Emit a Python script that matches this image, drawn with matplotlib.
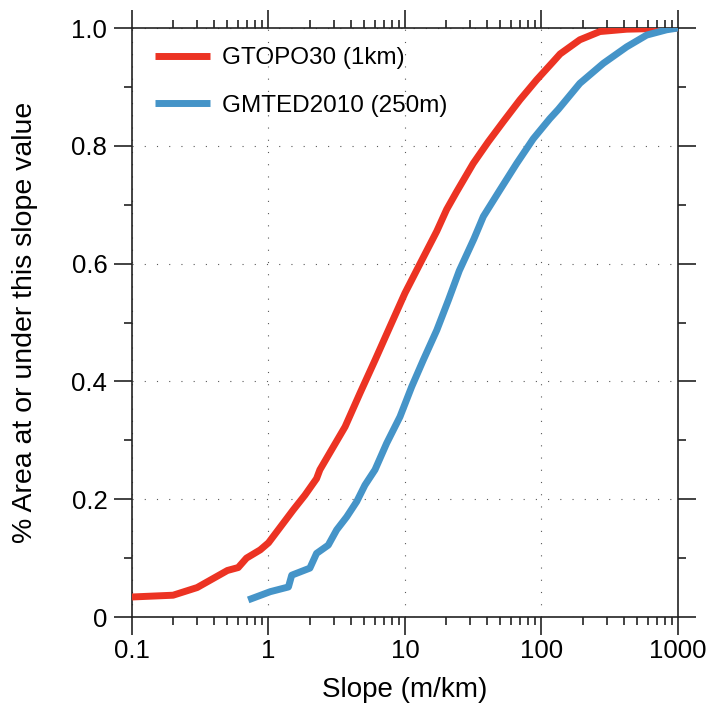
import numpy as np
import matplotlib
matplotlib.use("Agg")
import matplotlib.pyplot as plt
from matplotlib.ticker import FixedLocator, NullFormatter

plt.rcParams['font.family'] = ['Liberation Sans', 'DejaVu Sans']

# slope values (m/km) and cumulative area fraction
gtopo_x = [0.1, 0.2, 0.3, 0.5, 0.6, 0.69, 0.87, 1.0, 1.28, 1.52, 1.85, 2.25, 2.38,
           2.9, 3.64, 4.68, 6.03, 7.76, 10, 12.9, 17.1, 20.2, 23.9, 31.6, 40.8,
           52.5, 69.5, 92.2, 122, 137, 191, 268, 421, 1000]
gtopo_y = [0.034, 0.037, 0.050, 0.079, 0.084, 0.100, 0.114, 0.126, 0.159, 0.182,
           0.207, 0.235, 0.250, 0.284, 0.323, 0.380, 0.436, 0.493, 0.550, 0.600,
           0.655, 0.692, 0.722, 0.770, 0.807, 0.841, 0.878, 0.912, 0.943, 0.956,
           0.980, 0.994, 0.998, 1.0]

gmted_x = [0.71, 1.03, 1.40, 1.48, 2.01, 2.25, 2.74, 3.16, 3.74, 4.43, 5.09, 6.03,
           7.34, 9.19, 11.2, 13.6, 17.1, 20.8, 25.0, 32, 37.5, 49.6, 65.8, 87.1,
           115, 133, 191, 284, 421, 590, 826, 1000]
gmted_y = [0.029, 0.043, 0.051, 0.071, 0.083, 0.108, 0.122, 0.148, 0.170, 0.196,
           0.224, 0.250, 0.295, 0.340, 0.391, 0.436, 0.487, 0.538, 0.588, 0.642,
           0.680, 0.725, 0.770, 0.812, 0.846, 0.862, 0.906, 0.940, 0.968, 0.988,
           0.997, 1.0]

series_names = ['GTOPO30 (1km)', 'GMTED2010 (250m)']
x_ticks = [0.1, 1, 10, 100, 1000]
x_ticklabels = ['0.1', '1', '10', '100', '1000']
y_ticks = [0, 0.2, 0.4, 0.6, 0.8, 1.0]
y_ticklabels = ['0', '0.2', '0.4', '0.6', '0.8', '1.0']

fig = plt.figure(figsize=(7.12, 7.11), dpi=100)
ax = fig.add_axes([0.1854, 0.1322, 0.7668, 0.8284])

ax.plot(gtopo_x, gtopo_y, color='#EC3323', lw=5, label=series_names[0],
        solid_capstyle='butt', zorder=3)
ax.plot(gmted_x, gmted_y, color='#4594C8', lw=5, label=series_names[1],
        solid_capstyle='butt', zorder=3)

ax.set_xscale('log')
ax.set_xlim(0.1, 1000)
ax.set_ylim(0, 1.0)

ax.xaxis.set_major_locator(FixedLocator(x_ticks))
ax.set_xticklabels(x_ticklabels)
minors = [m * d for d in [0.1, 1, 10, 100] for m in range(2, 10)]
ax.xaxis.set_minor_locator(FixedLocator(minors))
ax.xaxis.set_minor_formatter(NullFormatter())
ax.set_yticks(y_ticks)
ax.set_yticklabels(y_ticklabels)
ax.yaxis.set_minor_locator(FixedLocator([0.1, 0.3, 0.5, 0.7, 0.9]))

ax.tick_params(which='both', direction='out', top=True, right=True, width=1.2,
               labelsize=18.5, color='#222222')
ax.tick_params(which='major', length=13)
ax.tick_params(which='minor', length=5.5)
ax.tick_params(axis='x', pad=3)
ax.tick_params(axis='y', pad=4.8)
for s in ax.spines.values():
    s.set_linewidth(1.2)
    s.set_color('#222222')

ax.grid(True, which='major', color='0.35', lw=0.8, linestyle=(0, (1, 10)))

ax.set_xlabel('Slope (m/km)', fontsize=20)
ax.set_ylabel('% Area at or under this slope value', fontsize=20.5)
ax.xaxis.set_label_coords(0.5, -0.102)
ax.yaxis.set_label_coords(-0.172, 0.5)

ax.legend(loc='upper left', bbox_to_anchor=(0.042, 0.967), frameon=False,
          fontsize=17.5, handlelength=2.26, handletextpad=0.48, labelspacing=1.05,
          borderpad=0, borderaxespad=0)

fig.savefig('out.png', dpi=100)
